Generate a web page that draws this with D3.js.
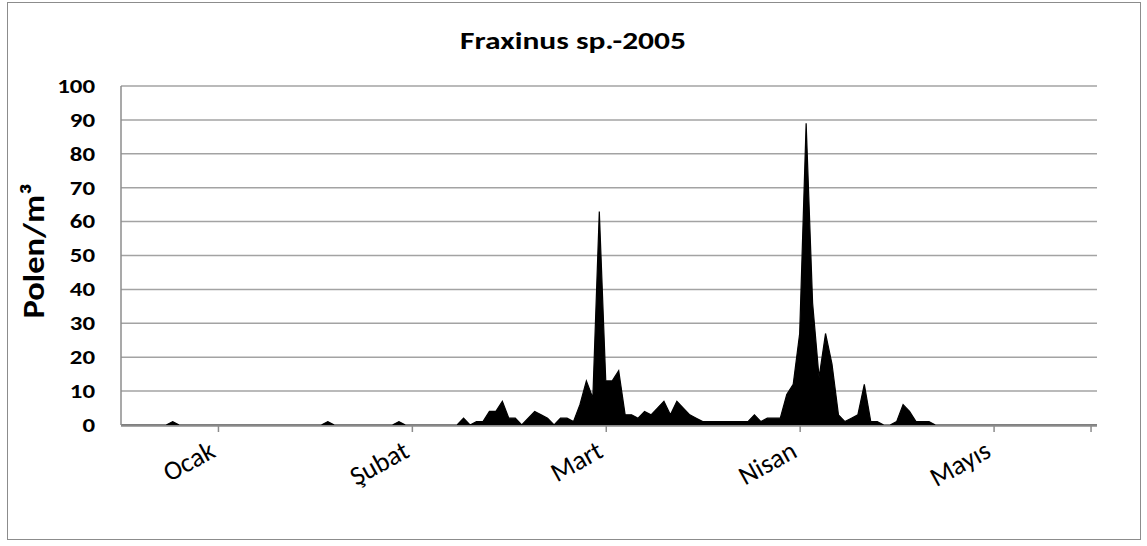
<!DOCTYPE html>
<meta charset="utf-8">
<script src="https://d3js.org/d3.v7.min.js"></script>
<style>
  body { margin: 0; background: #fff; }
  text { font-family: Calibri, Carlito, "Open Sans", sans-serif; }
</style>
<body>
<script>
// daily pollen counts, 1 Jan .. (152 days)
var pollen = [
  0,0,0,0,0,0,0,0,1,0,           // 0-9
  0,0,0,0,0,0,0,0,0,0,           // 10-19
  0,0,0,0,0,0,0,0,0,0,           // 20-29
  0,0,1,0,0,0,0,0,0,0,           // 30-39
  0,0,0,1,0,0,0,0,0,0,           // 40-49
  0,0,0,2,0,1,1,4,4,7,           // 50-59
  2,2,0,2,4,3,2,0,2,2,           // 60-69
  1,6,13,8,63,13,13,16,3,3,      // 70-79
  2,4,3,5,7,3,7,5,3,2,           // 80-89
  1,1,1,1,1,1,1,1,3,1,           // 90-99
  2,2,2,9,12,27,89,36,14,27,     // 100-109
  18,3,1,2,3,12,1,1,0,0,         // 110-119
  1,6,4,1,1,1,0,0,0,0,           // 120-129
  0,0,0,0,0,0,0,0,0,0,           // 130-139
  0,0,0,0,0,0,0,0,0,0,           // 140-149
  0,0                            // 150-151
];
var monthLabels = ["Ocak", "Şubat", "Mart", "Nisan", "Mayıs"];
var monthLabelDays = [15, 45, 75, 105, 135];
var tickDays = [15, 45, 75, 105, 135, 150];
var yTicks = [0, 10, 20, 30, 40, 50, 60, 70, 80, 90, 100];
var title = "Fraxinus sp.-2005";
var yTitle = "Polen/m³";

var W = 1147, H = 546;
var svg = d3.select("body").append("svg").attr("width", W).attr("height", H);

// outer chart border
svg.append("rect")
  .attr("x", 7.5).attr("y", 2.5).attr("width", 1133).attr("height", 537)
  .style("fill", "#fff").style("stroke", "#8c8c8c").style("stroke-width", 1);

var x = d3.scaleLinear().domain([0, pollen.length - 1]).range([121, 1097]);
var y = d3.scaleLinear().domain([0, 100]).range([425, 86]);

// gridlines
svg.append("g").selectAll("line")
  .data(yTicks.filter(function(d) { return d > 0; }))
  .enter().append("line")
    .attr("x1", x.range()[0]).attr("x2", x.range()[1])
    .attr("y1", function(d) { return y(d); }).attr("y2", function(d) { return y(d); })
    .style("stroke", "#a3a3a3").style("stroke-width", 1.5);

// area
var area = d3.area()
  .x(function(d, i) { return x(i); })
  .y0(y(0))
  .y1(function(d) { return y(d); });

svg.append("path")
  .datum(pollen)
  .attr("d", area)
  .style("fill", "#000").style("stroke", "#000").style("stroke-width", 1.2);

// y axis line
svg.append("line")
  .attr("x1", 121).attr("x2", 121).attr("y1", y(100)).attr("y2", y(0))
  .style("stroke", "#8c8c8c").style("stroke-width", 1.5);

// x axis
var xAxis = d3.axisBottom(x).tickValues(tickDays).tickSize(6).tickFormat("");
var gx = svg.append("g").attr("transform", "translate(0," + (y(0) + 1) + ")").call(xAxis);
gx.select(".domain").attr("d", "M121,0H1097").style("stroke", "#8c8c8c").style("stroke-width", 1.5);
gx.selectAll(".tick line").style("stroke", "#8c8c8c").style("stroke-width", 1.5);

// y tick labels
svg.append("g").selectAll("text")
  .data(yTicks)
  .enter().append("text")
    .attr("x", 95)
    .attr("y", function(d) { return y(d) + 6.8; })
    .attr("text-anchor", "end")
    .attr("textLength", function(d) { return String(d).length * 12.6; })
    .attr("lengthAdjust", "spacingAndGlyphs")
    .style("font-size", "20.5px").style("font-weight", "bold")
    .text(function(d) { return d; });

// month labels
svg.append("g").selectAll("text")
  .data(monthLabels)
  .enter().append("text")
    .attr("transform", function(d, i) {
      return "translate(" + (x(monthLabelDays[i]) - 1) + ",456) rotate(-29)";
    })
    .attr("text-anchor", "end")
    .style("font-size", "27px")
    .text(function(d) { return d; });

// title
svg.append("text")
  .attr("x", 573).attr("y", 49)
  .attr("text-anchor", "middle")
  .attr("textLength", 226).attr("lengthAdjust", "spacingAndGlyphs")
  .style("font-size", "25px").style("font-weight", "bold")
  .text(title);

// y axis title
svg.append("text")
  .attr("transform", "translate(44,251) rotate(-90)")
  .attr("text-anchor", "middle")
  .attr("textLength", 135).attr("lengthAdjust", "spacingAndGlyphs")
  .style("font-size", "31px").style("font-weight", "bold")
  .text(yTitle);
</script>
</body>
